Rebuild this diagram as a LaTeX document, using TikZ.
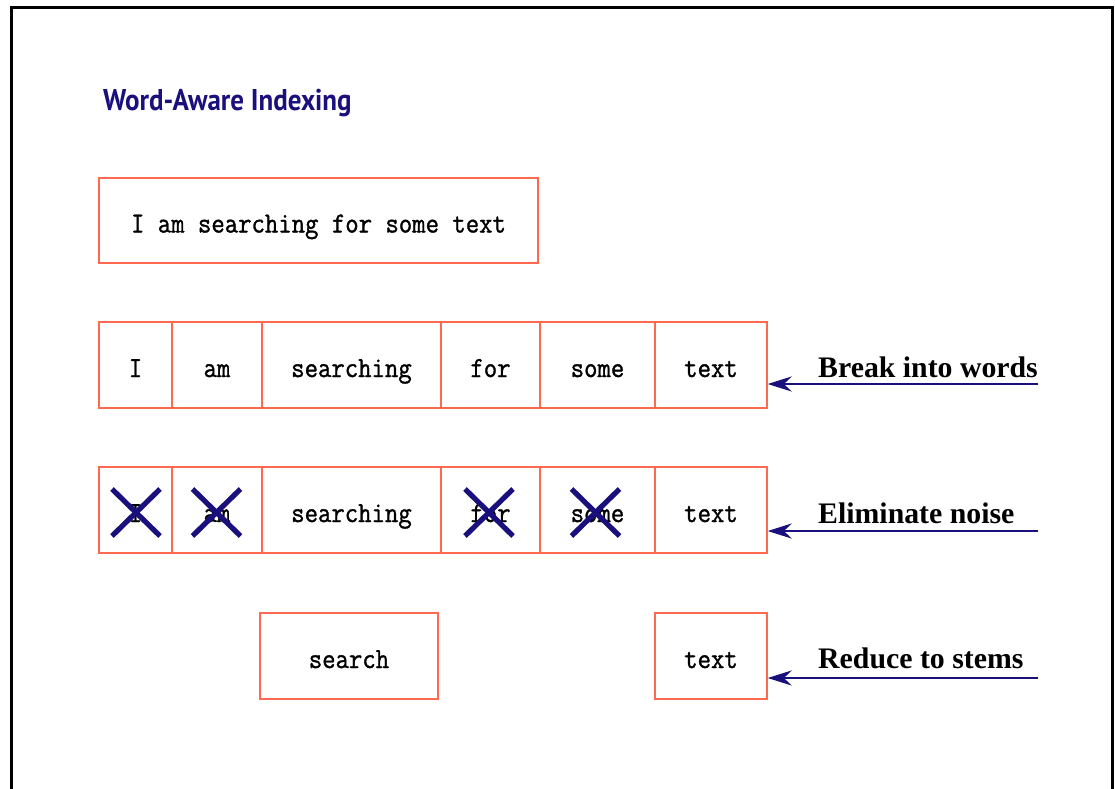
\documentclass[tikz,border=0pt]{standalone}
\usepackage{fontspec}
\newfontfamily\labelfont{Liberation Serif}
\newfontfamily\titlefont{PT Sans}
\newfontfamily\cellfont{Latin Modern Mono}[FakeBold=1.2]
\usetikzlibrary{arrows.meta}
\definecolor{boxred}{RGB}{255,105,80}
\definecolor{navy}{RGB}{25,15,125}

% one framed word cell: name, left, right, top, bottom, text
\newcommand{\wordcell}[6]{%
  \node[cell, minimum width={(#3-#2)*1pt}, minimum height={(#5-#4)*1pt}]
    (#1) at ({(#2+#3)/2},{(#4+#5)/2}) {\scalebox{1}[1.12]{#6}};}

\begin{document}
\begin{tikzpicture}[x=1pt,y=-1pt,
  cell/.style={draw=boxred, line width=1.3pt, inner sep=0pt,
    text height=24pt, text depth=0pt,
    font=\fontsize{26}{30}\cellfont},
  steplabel/.style={anchor=base west, inner sep=0pt,
    font=\labelfont\bfseries\fontsize{29.8}{32}\selectfont},
  pointer/.style={draw=navy, line width=2.8pt,
    -{Stealth[length=24pt,width=15pt]}},
  strike/.style={draw=navy, line width=5.2pt}]

\useasboundingbox (0,0) rectangle (1115,788);
\clip (0,0) rectangle (1115,788);

% page frame, open at the bottom
\draw[line width=3pt] (11,830) -- (11,7) -- (1112,7) -- (1112,830);

% heading
\node[anchor=base west, inner sep=0pt, text=navy,
  font=\titlefont\bfseries\fontsize{30}{32}\selectfont] (title) at (103,110)
  {\scalebox{0.9}[1]{Word-Aware Indexing}};

% the sentence
\wordcell{sentence}{99}{538}{178}{263}{I am searching for some text}

% split into words
\wordcell{wa}{99}{172}{322}{408}{I}
\wordcell{wb}{172}{262}{322}{408}{am}
\wordcell{wc}{262}{441}{322}{408}{searching}
\wordcell{wd}{441}{540}{322}{408}{for}
\wordcell{we}{540}{655}{322}{408}{some}
\wordcell{wf}{655}{767}{322}{408}{text}

% noise words struck out
\wordcell{na}{99}{172}{467}{553}{I}
\wordcell{nb}{172}{262}{467}{553}{am}
\wordcell{nc}{262}{441}{467}{553}{searching}
\wordcell{nd}{441}{540}{467}{553}{for}
\wordcell{ne}{540}{655}{467}{553}{some}
\wordcell{nf}{655}{767}{467}{553}{text}

\foreach \w/\dx in {na/0.5, nb/-0.5, nd/-1.5, ne/-2}{
  \draw[strike] ([shift={(\dx-24,-21)}]\w.center) -- ++(48,47);
  \draw[strike] ([shift={(\dx+24,-21)}]\w.center) -- ++(-48,47);
}

% stems
\wordcell{sa}{260}{438}{613}{699}{search}
\wordcell{sb}{655}{767}{613}{699}{text}

% step labels and their arrows
\node[steplabel] (l1) at (818,377) {Break into words};
\node[steplabel] (l2) at (818,523) {Eliminate noise};
\node[steplabel] (l3) at (818,668) {Reduce to stems};

\coordinate (p1) at (1038,384);
\coordinate (p2) at (1038,531);
\coordinate (p3) at (1038,678);
\draw[pointer] (p1) -- (p1 -| wf.east);
\draw[pointer] (p2) -- (p2 -| nf.east);
\draw[pointer] (p3) -- (p3 -| sb.east);
\end{tikzpicture}
\end{document}
